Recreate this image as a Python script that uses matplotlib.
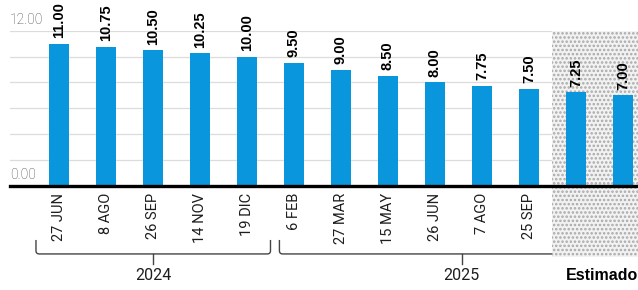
import matplotlib
matplotlib.use("Agg")
import matplotlib.pyplot as plt
from matplotlib.patches import Rectangle, PathPatch
from matplotlib.path import Path

# tasa objetivo (%), fechas de decision
fechas = ["27 JUN", "8 AGO", "26 SEP", "14 NOV", "19 DIC",
          "6 FEB", "27 MAR", "15 MAY", "26 JUN", "7 AGO", "25 SEP",
          "6 NOV", "18 DIC"]
tasas = [11.00, 10.75, 10.50, 10.25, 10.00,
         9.50, 9.00, 8.50, 8.00, 7.75, 7.50,
         7.25, 7.00]
n_estimado = 2
anios = ["2024", "2025"]
anio_rangos = [(-0.49, 4.50, 2.0), (4.69, 12.45, 8.57)]

azul = "#0a96dc"
gris_txt = "#1e1e1e"
light = dict(family=["Roboto", "DejaVu Sans"], fontweight="normal")
bold = dict(family=["Liberation Sans", "DejaVu Sans"], fontweight="bold")

plt.rcParams["hatch.linewidth"] = 1.2

fig = plt.figure(figsize=(6.38, 2.90), dpi=100)
ax = fig.add_axes([10 / 638, 1 - 186 / 290, 1 - 10 / 638, (186 - 30.7) / 290])
ax.set_xlim(-1.043, 12.32)
ax.set_ylim(0, 12)
for s in ax.spines.values():
    s.set_visible(False)
ax.set_yticks([])

x = list(range(len(fechas)))

# gridlines
for g in [2, 4, 6, 8, 10, 12]:
    ax.axhline(g, color="#dcdcdc", lw=0.9, zorder=1)
ax.axhline(0, color="black", lw=2.4, zorder=6, clip_on=False)

for v in [12, 0]:
    ax.annotate(f"{v:.2f}", xy=(0, v), xycoords=("axes fraction", "data"),
                xytext=(0, 3), textcoords="offset points", ha="left", va="bottom",
                fontsize=10, color="#444444", family=["Roboto", "DejaVu Sans"],
                fontweight="light")

# shaded "estimado" zone
x0 = len(fechas) - n_estimado - 0.5
shade = Rectangle((x0, -5.45), 13 - x0, 12 + 5.45, facecolor="#f2f2f2",
                  edgecolor="#a8a8a8", hatch="....", lw=0, zorder=2, clip_on=False)
ax.add_patch(shade)

ax.bar(x, tasas, width=0.42, color=azul, zorder=4)

for xi, t in zip(x, tasas):
    ax.annotate(f"{t:.2f}", xy=(xi, t), xytext=(0, 4), textcoords="offset points",
                rotation=90, ha="center", va="bottom", fontsize=10.5,
                color="black", zorder=7, **bold)

ax.set_xticks(x)
ax.set_xticklabels(fechas, rotation=90, ha="center", va="top", fontsize=10.5,
                   color=gris_txt, **light)
ax.tick_params(axis="x", length=0, pad=5)
for lab in ax.get_xticklabels():
    lab.set_zorder(7)

# brackets for years
ytop, ybot, ytick = -4.17, -5.25, -6.05
rx, ry = 0.07, 0.25
for (a, b, c), anio in zip(anio_rangos, anios):
    verts = [(a, ytop), (a, ybot + ry), (a, ybot), (a + rx, ybot),
             (b - rx, ybot), (b, ybot), (b, ybot + ry), (b, ytop)]
    codes = [Path.MOVETO, Path.LINETO, Path.CURVE3, Path.CURVE3,
             Path.LINETO, Path.CURVE3, Path.CURVE3, Path.LINETO]
    ax.add_patch(PathPatch(Path(verts, codes), fill=False, edgecolor="#444444",
                           lw=1.0, zorder=1, clip_on=False))
    ax.plot([c, c], [ybot, ytick], color="#444444", lw=1.0, zorder=1, clip_on=False)
    ax.text(c, -6.3, anio, ha="center", va="top", fontsize=11.5, color=gris_txt, **light)

ax.text(10.79, -6.3, "Estimado", ha="left", va="top", fontsize=11.5,
        color="black", **bold)

fig.savefig("out.png", dpi=100)
